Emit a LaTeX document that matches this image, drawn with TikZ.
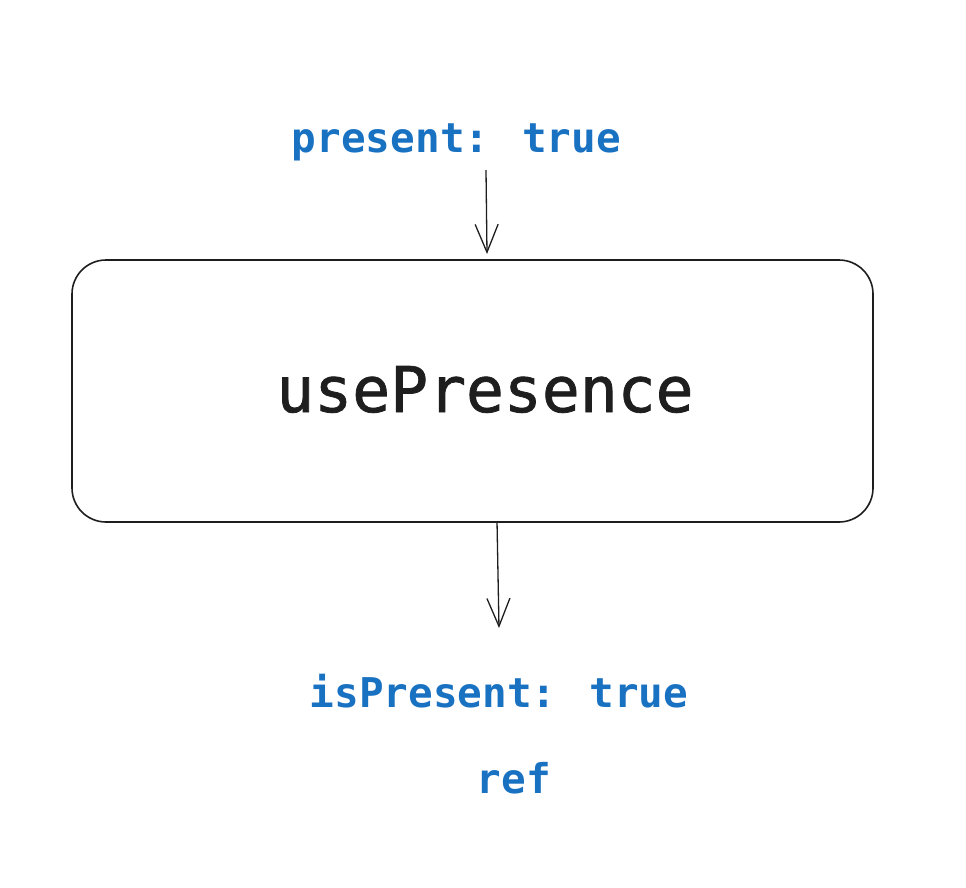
\documentclass[tikz,border=0pt]{standalone}
\usepackage{fontspec}
\usetikzlibrary{arrows.meta}
\newfontfamily\codefont{DejaVu Sans Mono}
\newfontfamily\codefontheavy[FakeBold=1.2]{DejaVu Sans Mono}
\definecolor{exblue}{HTML}{1971C2}
\definecolor{exink}{HTML}{1E1E1E}
\begin{document}
\begin{tikzpicture}[x=1pt,y=-1pt,
  bluelabel/.style={text=exblue,font=\codefont\bfseries\fontsize{41}{41}\selectfont,anchor=base,inner sep=0pt},
  hookbox/.style={draw=exink,line width=1.6pt,rounded corners=34pt,minimum width=801pt,minimum height=262pt,inner sep=0pt},
  boxtext/.style={text=exink,font=\codefontheavy\fontsize{63}{63}\selectfont,anchor=base,inner sep=0pt},
  flow/.style={draw=exink,line width=1.3pt,-{Straight Barb[length=28pt,width=23pt,line width=1.3pt]}}]
\useasboundingbox (0,0) rectangle (966,888);
\node[bluelabel] (inlbl) at (456.5,152) {present: true};
\node[hookbox] (hook) at (472.5,391) {};
\node[boxtext] (hooklbl) at (485,412) {usePresence};
\node[bluelabel] (outlbl) at (499,707) {isPresent: true};
\node[bluelabel] (reflbl) at (514,793) {ref};
\coordinate (inS) at (486,170);
\coordinate (inE) at (487,254);
\coordinate (outS) at (497,521);
\coordinate (outE) at (499,628);
\draw[flow] (inS) -- (inE);
\draw[flow] (outS) -- (outE);
\end{tikzpicture}
\end{document}
